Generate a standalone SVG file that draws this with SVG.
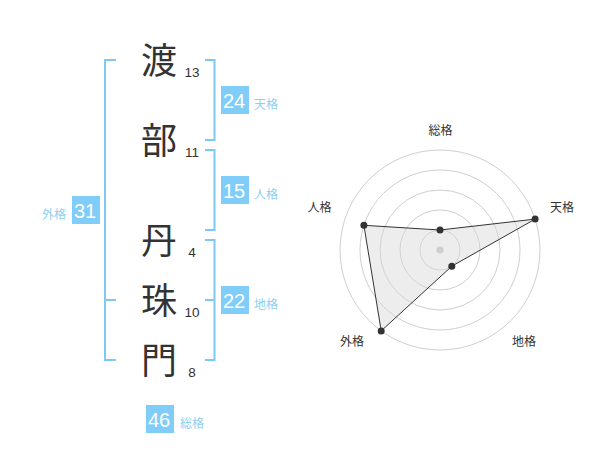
<svg xmlns="http://www.w3.org/2000/svg" width="600" height="470" viewBox="0 0 600 470">
<style>
.ch{font-family:"Noto Sans CJK JP","Noto Sans CJK SC",sans-serif;font-size:36px;fill:#333;text-anchor:middle}
.num{font-family:"Liberation Sans",Arial,sans-serif;font-size:13.5px;fill:#333;text-anchor:middle}
.br{fill:none;stroke:#7ec8f2;stroke-width:2}
.box{fill:#7fcdf8}
.bt{font-family:"Liberation Sans",Arial,sans-serif;font-size:20px;fill:#fff;text-anchor:middle}
.lb{font-family:"Noto Sans CJK JP","Noto Sans CJK SC",sans-serif;font-size:12px;fill:#8ccff5}
.ring{fill:none;stroke:#cfcfcf;stroke-width:1}
.rl{font-family:"Noto Sans CJK JP","Noto Sans CJK SC",sans-serif;font-size:12px;fill:#333;text-anchor:middle}
.dot{fill:#333}
</style>
<rect width="600" height="470" fill="#fff"/>
<g id="connectors">
<path class="br" d="M116,60 H105 V360 H116 M105,300 H116"/>
<path class="br" d="M205,60 H214.5 V140 H205"/>
<path class="br" d="M205,150 H214.5 V230 H205"/>
<path class="br" d="M205,240 H214.5 V360 H205 M205,300 H214.5"/>
</g>
<g id="char1"><text class="ch" x="159" y="74">渡</text><text class="num" x="192" y="77">13</text></g>
<g id="char2"><text class="ch" x="159" y="154">部</text><text class="num" x="192" y="157">11</text></g>
<g id="char3"><text class="ch" x="159" y="254">丹</text><text class="num" x="192" y="257">4</text></g>
<g id="char4"><text class="ch" x="159" y="314">珠</text><text class="num" x="192" y="317">10</text></g>
<g id="char5"><text class="ch" x="159" y="374">門</text><text class="num" x="192" y="377">8</text></g>
<g id="tenkaku"><rect class="box" x="221" y="86" width="28" height="28"/><text class="bt" x="234" y="108">24</text><text class="lb" x="254" y="108.5">天格</text></g>
<g id="jinkaku"><rect class="box" x="221" y="176" width="28" height="28"/><text class="bt" x="234" y="198">15</text><text class="lb" x="254" y="198.5">人格</text></g>
<g id="chikaku"><rect class="box" x="221" y="286" width="28" height="28"/><text class="bt" x="234" y="308">22</text><text class="lb" x="254" y="308.5">地格</text></g>
<g id="gaikaku"><rect class="box" x="72" y="196" width="28" height="28"/><text class="bt" x="85" y="218">31</text><text class="lb" x="66" y="218.5" text-anchor="end">外格</text></g>
<g id="soukaku"><rect class="box" x="146" y="405" width="28" height="28"/><text class="bt" x="159" y="427">46</text><text class="lb" x="180" y="427.5">総格</text></g>
<g id="radar">
<circle class="ring" cx="440" cy="250" r="20"/>
<circle class="ring" cx="440" cy="250" r="40"/>
<circle class="ring" cx="440" cy="250" r="60"/>
<circle class="ring" cx="440" cy="250" r="80"/>
<circle class="ring" cx="440" cy="250" r="100"/>
<circle cx="440" cy="250" r="3.5" fill="#c8c8c8"/>
<polygon points="440,230 535.1,219.1 451.8,266.2 381.2,330.9 363.9,225.3" fill="#d8d8d8" fill-opacity="0.45" stroke="#333" stroke-width="1"/>
<circle class="dot" cx="440" cy="230" r="3.5"/>
<circle class="dot" cx="535.1" cy="219.1" r="3.5"/>
<circle class="dot" cx="451.8" cy="266.2" r="3.5"/>
<circle class="dot" cx="381.2" cy="330.9" r="3.5"/>
<circle class="dot" cx="363.9" cy="225.3" r="3.5"/>
<text class="rl" x="440.5" y="135">総格</text>
<text class="rl" x="562" y="212">天格</text>
<text class="rl" x="319.5" y="212">人格</text>
<text class="rl" x="352" y="346">外格</text>
<text class="rl" x="524" y="346">地格</text>
</g>
</svg>
